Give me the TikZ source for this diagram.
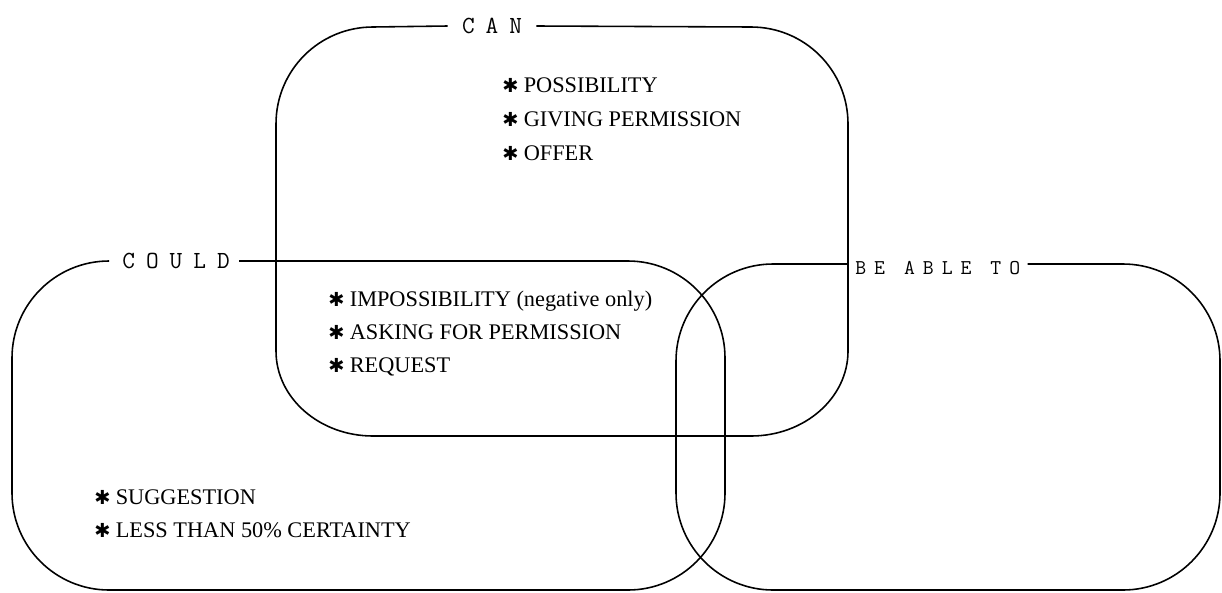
\documentclass[tikz,border=0pt]{standalone}
\usepackage{fontspec}
\setmainfont{Liberation Serif}
\newfontfamily\symfont{DejaVu Sans}
\newcommand{\bul}{{\symfont\fontsize{11}{11}\selectfont ✱}\hspace{3pt}}
\newcommand{\tg}{\hspace{0.22cm}}
\newcommand{\bg}{\hspace{0.16cm}}
\newcommand{\wg}{\hspace{0.38cm}}
\tikzset{
  box/.style={draw, line width=0.9pt},
  ttl/.style={font=\ttfamily\fontsize{14}{16}\selectfont\addfontfeature{FakeBold=0.6}, inner ysep=0pt, inner xsep=0.28cm},
  item/.style={anchor=base west, inner sep=0pt, font=\fontsize{12.7}{15}\selectfont},
}
\begin{document}
\begin{tikzpicture}[x=0.02cm, y=-0.02cm]
\useasboundingbox (0,0) rectangle (1222,592);
% titles
\node[ttl] (can) at (492,26) {C\tg A\tg N};
\node[ttl, anchor=west, inner xsep=0pt] (could) at (122,261) {C\tg O\tg U\tg L\tg D};
\node[ttl, anchor=west, inner xsep=0.14cm, font=\ttfamily\fontsize{12}{14}\selectfont\addfontfeature{FakeBold=0.6}] (able) at (848,268) {B\bg E\wg A\bg B\bg L\bg E\wg T\bg O};
% CAN box
\draw[box] (can.east) -- (751,27) .. controls (804.5,27) and (848,70) .. (848,124)
  -- (848,351) .. controls (848,398) and (804.5,436) .. (751,436)
  -- (373,436) .. controls (319.5,436) and (276,398) .. (276,351)
  -- (276,124) .. controls (276,70) and (319.5,27) .. (373,27) -- (can.west);
% COULD box
\draw[box] ([xshift=0.18cm]could.east) -- (628,261) .. controls (681.5,261) and (725,304.5) .. (725,358)
  -- (725,493) .. controls (725,546.5) and (681.5,590) .. (628,590)
  -- (109,590) .. controls (55.5,590) and (12,546.5) .. (12,493)
  -- (12,358) .. controls (12,304.5) and (55.5,261) .. (109,261) -- ([xshift=-0.26cm]could.west);
% BE ABLE TO box
\draw[box] ([yshift=0.08cm]able.east) -- (1123,264) .. controls (1176.5,264) and (1220,307.5) .. (1220,361)
  -- (1220,493) .. controls (1220,546.5) and (1176.5,590) .. (1123,590)
  -- (773,590) .. controls (719.5,590) and (676,546.5) .. (676,493)
  -- (676,361) .. controls (676,307.5) and (719.5,264) .. (773,264) -- ([yshift=0.08cm]able.west);
% items
\node[item] (i1) at (502,92) {\bul POSSIBILITY};
\node[item] (i2) at (502,126) {\bul GIVING PERMISSION};
\node[item] (i3) at (502,160) {\bul OFFER};
\node[item] (i4) at (328,306) {\bul IMPOSSIBILITY (negative only)};
\node[item] (i5) at (328,339) {\bul ASKING FOR PERMISSION};
\node[item] (i6) at (328,372) {\bul REQUEST};
\node[item] (i7) at (94,504) {\bul SUGGESTION};
\node[item] (i8) at (94,537) {\bul LESS THAN 50\% CERTAINTY};
\end{tikzpicture}
\end{document}
